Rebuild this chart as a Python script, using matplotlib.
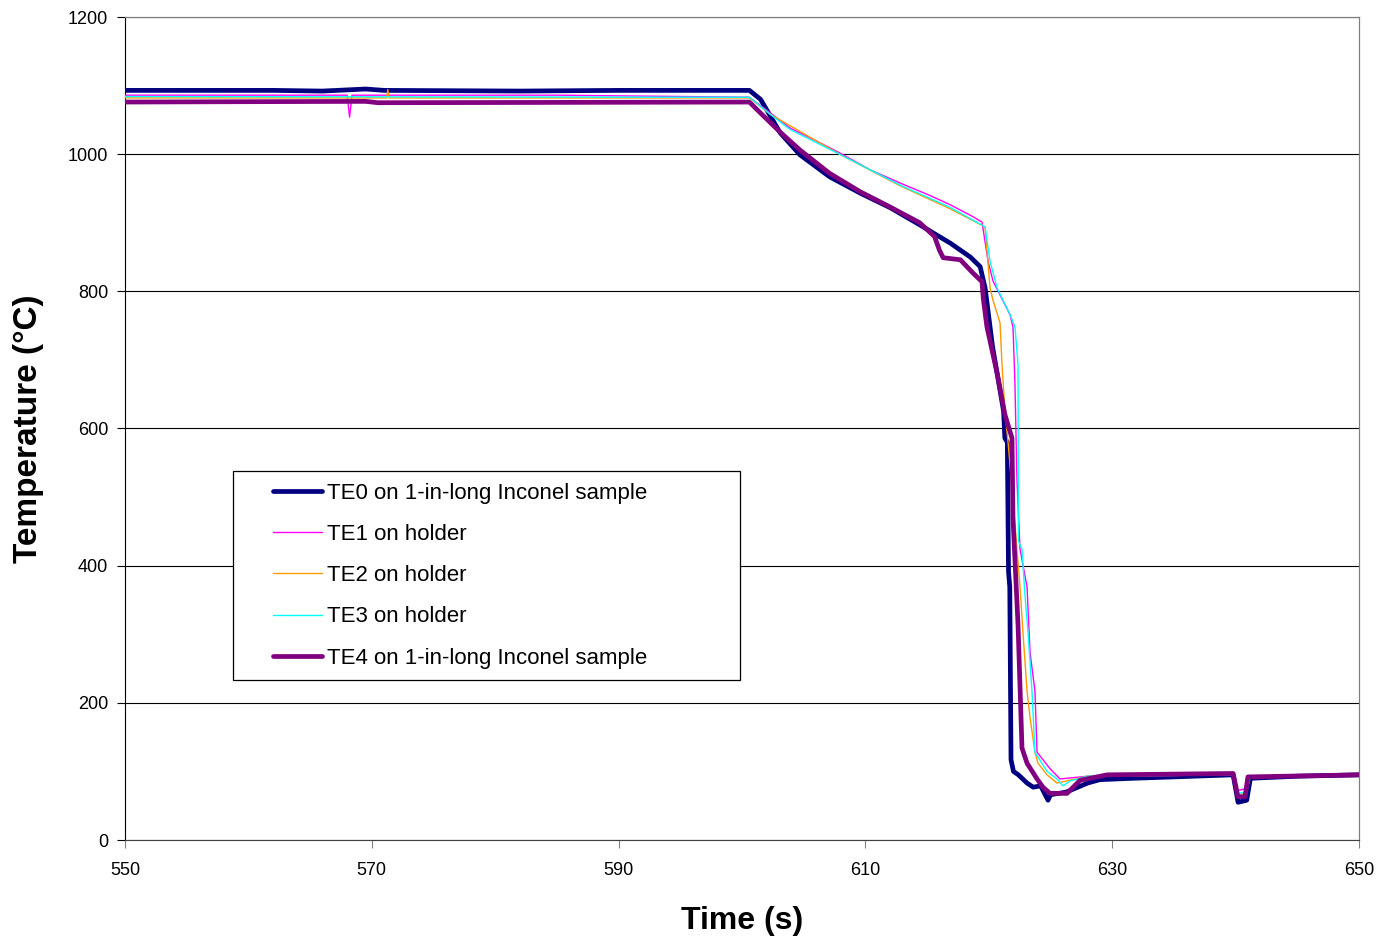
import matplotlib
matplotlib.use("Agg")
import matplotlib.pyplot as plt
from matplotlib.patches import Rectangle

plt.rcParams['font.family'] = ['Liberation Sans', 'DejaVu Sans']

# ---- data ----
te0_t = [550, 562, 566, 569.5, 571, 582, 590, 600.6, 601.5, 603.1, 604.7, 607.1, 609.6, 612.0, 614.4,
         616.9, 618.5, 619.3, 619.7, 620.3, 621.2, 621.3, 621.5, 621.6, 621.7, 621.8, 622.0, 622.4,
         623.1, 623.6, 624.2, 624.8, 625.0, 626.3, 628.0, 629.0, 631.7, 635.0, 639.8, 640.2, 640.9,
         641.2, 645.0, 650]
te0_T = [1093, 1093, 1092, 1095, 1093, 1092, 1093, 1093, 1080, 1031, 999, 967, 943, 922, 897,
         870, 850, 836, 805, 720, 625, 586, 580, 391, 369, 117, 100, 95,
         83, 77, 79, 58, 66, 70, 83, 88, 90, 92, 95, 55, 58,
         90, 93, 95]

te1_t = [550, 568.0, 568.2, 568.4, 585, 600.6, 602.3, 603.9, 605.5, 607.9, 610.4, 612.8, 615.2, 616.9,
         618.7, 619.45, 619.94, 620.34, 621.72, 621.96, 622.12, 622.28, 622.53, 623.10, 623.34, 623.74,
         623.91, 624.96, 625.77, 628.0, 639.8, 640.2, 640.8, 641.2, 650]
te1_T = [1086, 1086, 1054, 1086, 1086, 1083, 1060, 1038, 1024, 1002, 977, 958, 940, 926,
         909, 901, 844, 815, 766, 748, 665, 525, 424, 369, 274, 217,
         128, 104, 89, 93, 95, 72, 75, 93, 95]

te2_t = [550, 571.2, 571.3, 571.4, 600.6, 602.3, 607.9, 612.8, 616.9, 619.69, 619.85, 620.10, 620.34,
         620.91, 621.07, 621.31, 621.56, 621.96, 622.28, 622.53, 622.77, 623.10, 623.34, 623.74, 623.99,
         624.72, 625.53, 626.01, 628.0, 639.8, 640.2, 640.8, 641.2, 650]
te2_T = [1082, 1082, 1094, 1082, 1082, 1058, 1000, 954, 920, 894, 860, 805, 787,
         754, 693, 626, 580, 497, 424, 369, 302, 217, 179, 128, 112,
         95, 83, 85, 93, 95, 66, 68, 93, 95]

te3_t = [550, 600.6, 602.3, 603.9, 607.9, 612.8, 616.9, 619.7, 620.10, 620.67, 621.72, 622.12, 622.37,
         622.40, 622.69, 622.93, 623.18, 623.50, 623.74, 624.72, 625.53, 626.01, 626.58, 628.0, 639.8,
         640.2, 640.9, 641.2, 650]
te3_T = [1084, 1083, 1058, 1036, 1000, 955, 922, 894, 844, 805, 766, 748, 693,
         436, 424, 357, 302, 217, 128, 100, 89, 79, 86, 93, 95,
         68, 70, 93, 95]

te4_t = [550, 569.5, 570.5, 600.6, 601.5, 603.1, 604.7, 607.1, 609.6, 612.0, 614.4, 615.6, 616.0,
         616.3, 617.7, 618.7, 619.45, 619.55, 619.85, 620.67, 621.31, 621.88, 621.96, 622.37, 622.69,
         623.10, 623.91, 624.39, 624.96, 626.34, 627.39, 629.58, 639.8, 640.19, 640.76, 641.0, 650]
te4_T = [1076, 1077, 1075, 1076, 1060, 1032, 1006, 972, 945, 923, 900, 880, 860,
         849, 846, 827, 814, 790, 748, 681, 620, 586, 469, 313, 134,
         112, 89, 77, 68, 68, 87, 95, 97, 63, 63, 92, 95]

labels = ["TE0 on 1-in-long Inconel sample", "TE1 on holder", "TE2 on holder",
          "TE3 on holder", "TE4 on 1-in-long Inconel sample"]
colors = ["#000080", "#FF00FF", "#FF9900", "#00FFFF", "#800080"]
widths = [3.4, 1.0, 1.0, 1.0, 3.4]

x_ticks = [550, 570, 590, 610, 630, 650]
y_ticks = [0, 200, 400, 600, 800, 1000, 1200]

# ---- figure ----
fig = plt.figure(figsize=(13.8, 9.38), dpi=100)
ax = fig.add_axes([125 / 1380, 1 - 840 / 938, 1234 / 1380, 823 / 938])

series = [(te0_t, te0_T), (te1_t, te1_T), (te2_t, te2_T), (te3_t, te3_T), (te4_t, te4_T)]
handles = []
for (t, T), lab, c, w in zip(series, labels, colors, widths):
    h, = ax.plot(t, T, color=c, lw=w, label=lab, solid_joinstyle='round',
                 solid_capstyle='round', zorder=3)
    handles.append(h)

ax.set_xlim(550, 650)
ax.set_ylim(0, 1200)
ax.set_xticks(x_ticks)
ax.set_yticks(y_ticks)
ax.tick_params(axis='both', labelsize=13, labelcolor='black', direction='out')
ax.tick_params(axis='y', length=6, pad=6, color='black')
ax.tick_params(axis='x', length=6, pad=10, color='#808080')
ax.yaxis.grid(True, color='black', lw=0.8, zorder=0)
ax.set_axisbelow(True)
for s in ['top', 'right']:
    ax.spines[s].set_color('#808080')
    ax.spines[s].set_linewidth(0.9)
ax.spines['left'].set_color('black')
ax.spines['bottom'].set_color('#404040')

ax.set_xlabel("Time (s)", fontsize=23, fontweight='bold')
ax.xaxis.set_label_coords(0.5, -0.08)
ax.set_ylabel("Temperature (°C)", fontsize=24, fontweight='bold')
ax.yaxis.set_label_coords(-0.066, 0.5)

# legend box
ax.add_patch(Rectangle((0.0875, 0.194), 0.4108, 0.254, transform=ax.transAxes,
                       facecolor='white', edgecolor='black', lw=0.9, zorder=4))
leg = ax.legend(handles=handles, loc='upper left', bbox_to_anchor=((273 - 125) / 1234, 0.434),
                frameon=False, borderpad=0, borderaxespad=0, fontsize=16,
                handlelength=2.2, handletextpad=0.25, labelspacing=0.91)
leg.set_zorder(5)

fig.savefig("out.png", dpi=100, facecolor='white')
